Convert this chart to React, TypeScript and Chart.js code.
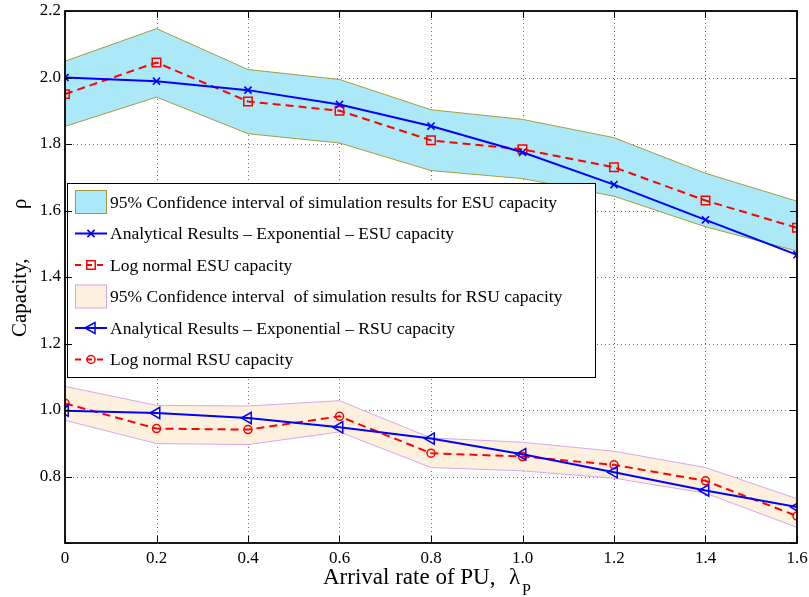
import React, { useEffect, useRef } from 'react';
import { Chart, registerables } from 'chart.js';

Chart.register(...registerables);

const xValues = [0, 0.2, 0.4, 0.6, 0.8, 1.0, 1.2, 1.4, 1.6];
const esuUpper = [2.049, 2.147, 2.024, 1.994, 1.903, 1.874, 1.819, 1.712, 1.628];
const esuLower = [1.853, 1.941, 1.831, 1.803, 1.72, 1.696, 1.643, 1.551, 1.478];
const esuAnalytical = [2.0, 1.989, 1.962, 1.919, 1.854, 1.775, 1.678, 1.572, 1.467];
const esuLogNormal = [1.95, 2.045, 1.928, 1.9, 1.811, 1.784, 1.73, 1.63, 1.548];
const rsuUpper = [1.071, 1.014, 1.012, 1.028, 0.916, 0.903, 0.876, 0.827, 0.733];
const rsuLower = [0.969, 0.899, 0.896, 0.934, 0.827, 0.817, 0.795, 0.75, 0.647];
const rsuAnalytical = [0.998, 0.991, 0.976, 0.948, 0.914, 0.867, 0.813, 0.758, 0.708];
const rsuLogNormal = [1.02, 0.944, 0.941, 0.981, 0.87, 0.86, 0.835, 0.787, 0.681];

const xTicks = [0, 0.2, 0.4, 0.6, 0.8, 1.0, 1.2, 1.4, 1.6];
const yTicks = [0.6, 0.8, 1.0, 1.2, 1.4, 1.6, 1.8, 2.0, 2.2];

const legendLabels = [
  '95% Confidence interval of simulation results for ESU capacity',
  'Analytical Results \u2013 Exponential \u2013 ESU capacity',
  'Log normal ESU capacity',
  '95% Confidence interval  of simulation results for RSU capacity',
  'Analytical Results \u2013 Exponential \u2013 RSU capacity',
  'Log normal RSU capacity',
];

const yTitle = 'Capacity,';
const yTitleSymbol = '\u03c1';
const xTitle = 'Arrival rate of PU,';
const xTitleSymbol = '\u03bb';
const xTitleSub = 'P';

const SERIF = "'Liberation Serif', 'Times New Roman', serif";
const BLUE = '#0000ff';
const RED = '#ff0000';
const ESU_FILL = '#abe9f9';
const ESU_EDGE = '#a39c3c';
const RSU_FILL = '#fdf0dc';
const RSU_EDGE = '#d4a8f2';

Chart.defaults.font.family = SERIF;
Chart.defaults.font.size = 17;
Chart.defaults.color = '#000';

const pts = (ys: number[]) => xValues.map((x, i) => ({ x, y: ys[i] }));

function drawMarker(ctx: CanvasRenderingContext2D, kind: string, x: number, y: number) {
  ctx.save();
  ctx.setLineDash([]);
  ctx.beginPath();
  if (kind === 'x') {
    const s = 3.6;
    ctx.lineWidth = 1.6;
    ctx.moveTo(x - s, y - s); ctx.lineTo(x + s, y + s);
    ctx.moveTo(x + s, y - s); ctx.lineTo(x - s, y + s);
  } else if (kind === 'rect') {
    ctx.lineWidth = 1.5;
    ctx.rect(x - 4.2, y - 4.2, 8.4, 8.4);
  } else if (kind === 'tri') {
    ctx.lineWidth = 1.5;
    ctx.moveTo(x - 6, y); ctx.lineTo(x + 4, y - 5.5); ctx.lineTo(x + 4, y + 5.5); ctx.closePath();
  } else if (kind === 'circle') {
    ctx.lineWidth = 1.5;
    ctx.arc(x, y, 4, 0, Math.PI * 2);
  }
  ctx.stroke();
  ctx.restore();
}

const decorPlugin = {
  id: 'matlabDecor',
  beforeDatasetsDraw(chart: any) {
    const { ctx, chartArea, scales } = chart;
    const { left, right, top, bottom } = chartArea;
    ctx.save();
    ctx.strokeStyle = '#6e6e6e';
    ctx.lineWidth = 1;
    ctx.setLineDash([1, 3]);
    xTicks.slice(1, -1).forEach((v) => {
      const px = Math.round(scales.x.getPixelForValue(v)) + 0.5;
      ctx.beginPath(); ctx.moveTo(px, top); ctx.lineTo(px, bottom); ctx.stroke();
    });
    yTicks.slice(1, -1).forEach((v) => {
      const py = Math.round(scales.y.getPixelForValue(v)) + 0.5;
      ctx.beginPath(); ctx.moveTo(left, py); ctx.lineTo(right, py); ctx.stroke();
    });
    ctx.restore();
  },
  afterDatasetsDraw(chart: any) {
    const { ctx } = chart;
    const bx = 67, by = 183, bw = 528, bh = 194;
    ctx.save();
    ctx.fillStyle = '#ffffff';
    ctx.fillRect(bx, by, bw, bh);
    ctx.strokeStyle = '#000';
    ctx.lineWidth = 1;
    ctx.strokeRect(bx + 0.5, by + 0.5, bw, bh);
    const rowY = [202, 233.5, 265, 296.5, 328, 359.5];
    const x0 = 75, x1 = 107, xm = 91;
    rowY.forEach((cy, i) => {
      if (i === 0 || i === 3) {
        ctx.fillStyle = i === 0 ? ESU_FILL : RSU_FILL;
        ctx.strokeStyle = i === 0 ? ESU_EDGE : RSU_EDGE;
        ctx.lineWidth = 1;
        ctx.fillRect(x0, cy - 12, 32, 24);
        ctx.strokeRect(x0 + 0.5, cy - 11.5, 31, 23);
      } else {
        const blue = i === 1 || i === 4;
        ctx.strokeStyle = blue ? BLUE : RED;
        ctx.lineWidth = 2;
        ctx.setLineDash(blue ? [] : [6, 5]);
        ctx.beginPath(); ctx.moveTo(x0, cy); ctx.lineTo(x1, cy); ctx.stroke();
        ctx.setLineDash([]);
        const kind = i === 1 ? 'x' : i === 2 ? 'rect' : i === 4 ? 'tri' : 'circle';
        drawMarker(ctx, kind, xm, cy);
      }
      ctx.fillStyle = '#000';
      ctx.font = `17.5px ${SERIF}`;
      ctx.textBaseline = 'middle';
      ctx.textAlign = 'left';
      ctx.fillText(legendLabels[i], 110, cy + 1);
    });
    ctx.restore();
  },
  afterDraw(chart: any) {
    const { ctx, chartArea, scales } = chart;
    const { left, right, top, bottom } = chartArea;
    ctx.save();
    ctx.strokeStyle = '#000';
    ctx.setLineDash([]);
    ctx.lineWidth = 1;
    const tl = 7;
    xTicks.forEach((v) => {
      const px = Math.round(scales.x.getPixelForValue(v)) + 0.5;
      ctx.beginPath();
      ctx.moveTo(px, bottom); ctx.lineTo(px, bottom - tl);
      ctx.moveTo(px, top); ctx.lineTo(px, top + tl);
      ctx.stroke();
    });
    yTicks.forEach((v) => {
      const py = Math.round(scales.y.getPixelForValue(v)) + 0.5;
      ctx.beginPath();
      ctx.moveTo(left, py); ctx.lineTo(left + tl, py);
      ctx.moveTo(right, py); ctx.lineTo(right - tl, py);
      ctx.stroke();
    });
    ctx.lineWidth = 1.8;
    ctx.strokeRect(left, top, right - left, bottom - top);

    ctx.fillStyle = '#000';
    ctx.textAlign = 'left';
    ctx.textBaseline = 'alphabetic';
    ctx.save();
    ctx.translate(26, 337);
    ctx.rotate(-Math.PI / 2);
    ctx.font = `21px ${SERIF}`;
    ctx.fillText(yTitle, 0, 0);
    ctx.fillText(yTitleSymbol, 128, 0);
    ctx.restore();

    ctx.font = `23px ${SERIF}`;
    ctx.fillText(xTitle, 323, 584);
    ctx.fillText(xTitleSymbol, 509, 584);
    ctx.font = `16px ${SERIF}`;
    ctx.fillText(xTitleSub, 522, 595);
    ctx.restore();
  },
};

export default function App() {
  const canvasRef = useRef<HTMLCanvasElement | null>(null);

  useEffect(() => {
    const canvas = canvasRef.current;
    if (!canvas) return;
    const bandBase = { pointRadius: 0, borderWidth: 1, tension: 0, order: 2 };
    const tickFont = { family: SERIF, size: 17 };
    const chart = new Chart(canvas, {
      type: 'line',
      data: {
        datasets: [
          { ...bandBase, label: 'esuUpper', data: pts(esuUpper), borderColor: ESU_EDGE, fill: false },
          { ...bandBase, label: 'esuLower', data: pts(esuLower), borderColor: ESU_EDGE, backgroundColor: ESU_FILL, fill: '-1' },
          { ...bandBase, label: 'rsuUpper', data: pts(rsuUpper), borderColor: RSU_EDGE, fill: false },
          { ...bandBase, label: 'rsuLower', data: pts(rsuLower), borderColor: RSU_EDGE, backgroundColor: RSU_FILL, fill: '-1' },
          {
            label: legendLabels[1], data: pts(esuAnalytical), borderColor: BLUE, borderWidth: 2, fill: false, order: 1,
            pointStyle: 'crossRot', pointRadius: 5, pointBorderWidth: 1.6, pointBorderColor: BLUE, pointBackgroundColor: 'rgba(0,0,0,0)',
          },
          {
            label: legendLabels[2], data: pts(esuLogNormal), borderColor: RED, borderWidth: 2, borderDash: [8, 5], fill: false, order: 1,
            pointStyle: 'rect', pointRadius: 6, pointBorderWidth: 1.5, pointBorderColor: RED, pointBackgroundColor: 'rgba(0,0,0,0)',
          },
          {
            label: legendLabels[4], data: pts(rsuAnalytical), borderColor: BLUE, borderWidth: 2, fill: false, order: 1,
            pointStyle: 'triangle', pointRotation: -90, pointRadius: 6.5, pointBorderWidth: 1.5, pointBorderColor: BLUE, pointBackgroundColor: 'rgba(0,0,0,0)',
          },
          {
            label: legendLabels[5], data: pts(rsuLogNormal), borderColor: RED, borderWidth: 2, borderDash: [8, 5], fill: false, order: 1,
            pointStyle: 'circle', pointRadius: 4, pointBorderWidth: 1.5, pointBorderColor: RED, pointBackgroundColor: 'rgba(0,0,0,0)',
          },
        ],
      },
      options: {
        responsive: false,
        animation: false,
        devicePixelRatio: 1,
        layout: { padding: { top: 11, right: 12, left: 0, bottom: 0 } },
        plugins: { legend: { display: false }, tooltip: { enabled: false } },
        scales: {
          x: {
            type: 'linear',
            min: 0,
            max: 1.6,
            grid: { display: false, drawTicks: false },
            border: { display: false },
            ticks: {
              stepSize: 0.2,
              autoSkip: false,
              maxRotation: 0,
              padding: 5,
              color: '#000',
              font: tickFont,
              callback: (v: any) => (Math.abs(Number(v)) < 1e-9 ? '0' : Number(v).toFixed(1)),
            },
            afterFit: (s: any) => { s.height = 54; s.paddingLeft = 0; s.paddingRight = 0; },
          },
          y: {
            type: 'linear',
            min: 0.6,
            max: 2.2,
            grid: { display: false, drawTicks: false },
            border: { display: false },
            ticks: {
              stepSize: 0.2,
              padding: 4,
              color: '#000',
              font: tickFont,
              callback: (v: any) => (Math.abs(Number(v) - 0.6) < 1e-6 ? '' : Number(v).toFixed(1)),
            },
            afterFit: (s: any) => { s.width = 65; s.paddingTop = 0; s.paddingBottom = 0; },
          },
        },
      },
      plugins: [decorPlugin],
    } as any);
    return () => chart.destroy();
  }, []);

  return (
    <div style={{ position: 'absolute', left: 0, top: 0, width: 809, height: 597, background: '#fff' }}>
      <canvas ref={canvasRef} width={809} height={597} />
    </div>
  );
}
